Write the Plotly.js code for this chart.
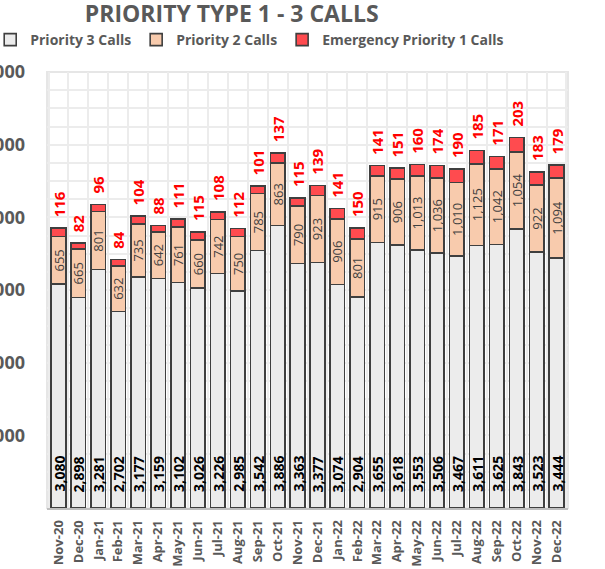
<!DOCTYPE html>
<html>
<head>
<meta charset="utf-8">
<script src="https://cdn.plot.ly/plotly-3.0.1.min.js"></script>
<style>html,body{margin:0;padding:0;background:#fff;}#chart{width:605px;height:569px;}</style>
</head>
<body>
<div id="chart"></div>
<script>
const months = ["Nov-20","Dec-20","Jan-21","Feb-21","Mar-21","Apr-21","May-21","Jun-21","Jul-21","Aug-21","Sep-21","Oct-21","Nov-21","Dec-21","Jan-22","Feb-22","Mar-22","Apr-22","May-22","Jun-22","Jul-22","Aug-22","Sep-22","Oct-22","Nov-22","Dec-22"];
const priority3 = [3080,2898,3281,2702,3177,3159,3102,3026,3226,2985,3542,3886,3363,3377,3074,2904,3655,3618,3553,3506,3467,3611,3625,3843,3523,3444];
const priority2 = [655,665,801,632,735,642,761,660,742,750,785,863,790,923,906,801,915,906,1013,1036,1010,1125,1042,1054,922,1094];
const priority1 = [116,82,96,84,104,88,111,115,108,112,101,137,115,139,141,150,141,151,160,174,190,185,171,203,183,179];
const yTicks = [1000,2000,3000,4000,5000,6000];

const FONT = "'Open Sans', sans-serif";
const outline = {color: "#3f3f3f", width: 1.6};
const fmt = v => v.toLocaleString("en-US");

const traces = [
  {type: "bar", name: "Priority 3 Calls", x: months, y: priority3,
   marker: {color: "#ececec", line: outline}, hoverinfo: "skip"},
  {type: "bar", name: "Priority 2 Calls", x: months, y: priority2,
   marker: {color: "#f8cbad", line: outline},
   text: priority2.map(fmt), textposition: "inside", insidetextanchor: "middle",
   textangle: -90, constraintext: "none",
   insidetextfont: {family: FONT, size: 13, color: "#404040"}, hoverinfo: "skip"},
  {type: "bar", name: "Emergency Priority 1 Calls", x: months, y: priority1,
   marker: {color: "#ff4b4f", line: outline},
   text: priority1.map(v => "\u00A0\u00A0" + fmt(v)), textposition: "outside", textangle: -90, constraintext: "none",
   outsidetextfont: {family: FONT, size: 15, color: "#ff0000", weight: "bold"}, cliponaxis: false, hoverinfo: "skip"}
];

const annotations = months.map((m, i) => ({
  x: m, y: 0, xref: "x", yref: "y", text: fmt(priority3[i]), showarrow: false,
  textangle: -90, yanchor: "bottom", xanchor: "center", yshift: 14,
  font: {family: FONT, size: 14, color: "#000000", weight: "bold"}
}));

const layout = {
  width: 605, height: 569,
  margin: {l: 47, r: 37, t: 72, b: 61, autoexpand: false},
  paper_bgcolor: "#ffffff", plot_bgcolor: "#ffffff",
  barmode: "stack", bargap: 0.27,
  font: {family: FONT, color: "#595959"},
  title: {text: "PRIORITY TYPE 1 - 3 CALLS", x: 0.383, xref: "container", xanchor: "center",
          y: 0.975, yref: "container", yanchor: "middle",
          font: {family: FONT, size: 23, color: "#595959", weight: "bold"}},
  showlegend: true,
  legend: {orientation: "h", xref: "paper", yref: "paper", x: -0.109, y: 1.11, yanchor: "top", xanchor: "left",
           font: {family: FONT, size: 14, color: "#595959", weight: "bold"}, itemwidth: 30, traceorder: "normal",
           tracegroupgap: 0},
  xaxis: {type: "category", tickson: "boundaries", showgrid: true, gridcolor: "#ececec", gridwidth: 2,
          tickangle: -90, ticks: "", showline: true, linecolor: "#bfbfbf", linewidth: 2, mirror: false,
          ticklabelstandoff: 5,
          tickfont: {family: FONT, size: 13, color: "#595959", weight: "bold"}, automargin: false, fixedrange: true},
  yaxis: {range: [0, 6000], tickvals: yTicks, ticktext: yTicks.map(fmt), showgrid: true, gridcolor: "#ececec", gridwidth: 2,
          minor: {dtick: 250, showgrid: true, gridcolor: "#ececec", gridwidth: 2},
          zeroline: false, showline: false, ticks: "", ticklabelstandoff: 21,
          tickfont: {family: FONT, size: 18, color: "#595959", weight: "bold"}, automargin: false, fixedrange: true},
  annotations: annotations,
  shapes: [{type: "rect", xref: "paper", yref: "paper", x0: 0, x1: 1, y0: 0, y1: 1, line: {color: "#e6e6e6", width: 2}, layer: "below"}]
};

Plotly.newPlot("chart", traces, layout, {displayModeBar: false, staticPlot: true});
</script>
</body>
</html>
